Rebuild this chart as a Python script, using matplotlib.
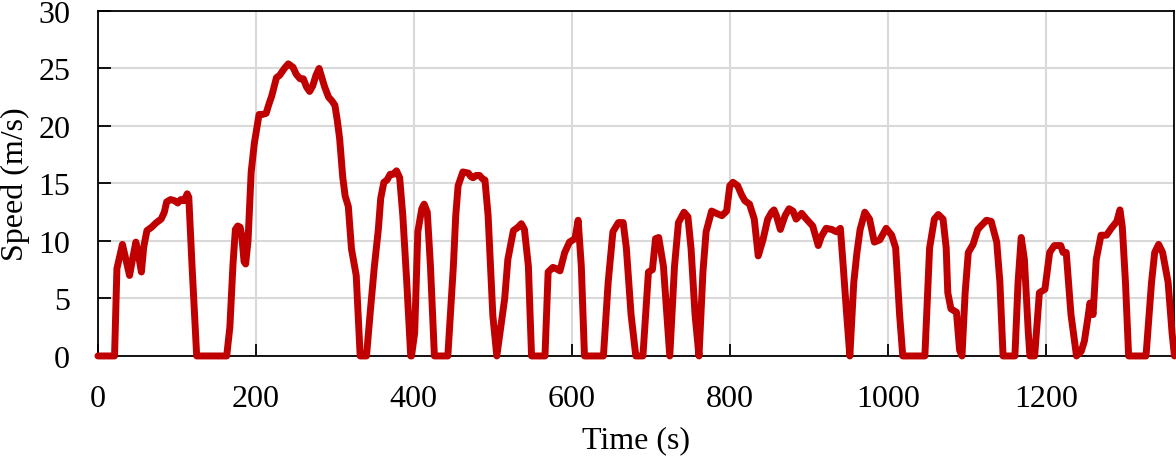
import numpy as np
import matplotlib
matplotlib.use('Agg')
import matplotlib.pyplot as plt

# speed trace (time in s, speed in m/s)
time_s = [0, 21, 24, 27, 31, 35, 40, 44, 48, 52, 55, 58, 62, 68, 74, 80, 84, 87, 92, 97,
          101, 105, 109, 113, 115, 119, 125, 163, 167, 171, 174, 177, 180, 182, 185, 187,
          190, 194, 198, 204, 208, 213, 216, 220, 226, 230, 236, 241, 247, 251, 256, 260,
          264, 268, 272, 276, 280, 283, 287, 292, 296, 300, 303, 306, 310, 313, 317, 321,
          327, 332, 340, 345, 350, 355, 358, 362, 366, 370, 374, 378, 382, 386, 391, 396,
          397, 401, 405, 410, 413, 417, 421, 426, 443, 450, 453, 456, 462, 469, 472, 475,
          479, 483, 487, 490, 494, 500, 505, 509, 515, 519, 526, 532, 536, 540, 545, 549,
          566, 570, 576, 580, 585, 591, 597, 604, 608, 612, 616, 640, 646, 652, 659, 665,
          669, 675, 681, 690, 697, 702, 706, 710, 716, 722, 724, 730, 735, 742, 747, 751,
          756, 761, 766, 770, 777, 783, 790, 796, 800, 804, 810, 815, 819, 825, 831, 836,
          842, 848, 853, 856, 859, 864, 870, 875, 880, 884, 891, 897, 905, 912, 916, 922,
          929, 935, 940, 943, 948, 952, 957, 961, 965, 971, 977, 983, 990, 998, 1005, 1010,
          1015, 1019, 1047, 1053, 1059, 1064, 1070, 1074, 1076, 1080, 1087, 1091, 1094,
          1098, 1102, 1108, 1114, 1118, 1125, 1131, 1138, 1142, 1146, 1161, 1165, 1169,
          1173, 1178, 1180, 1186, 1192, 1199, 1205, 1211, 1219, 1222, 1226, 1232, 1239,
          1245, 1249, 1254, 1256, 1260, 1264, 1270, 1277, 1283, 1290, 1294, 1297, 1301,
          1305, 1327, 1334, 1338, 1343, 1348, 1355, 1360, 1363]
speed_ms = [0, 0, 7.6, 8.5, 9.7, 8.5, 7.0, 8.5, 9.9, 8.5, 7.3, 9.5, 10.9, 11.2, 11.6, 11.9,
            12.5, 13.4, 13.6, 13.5, 13.3, 13.6, 13.5, 14.1, 13.8, 8.0, 0, 0, 2.5, 8.0, 11.0,
            11.3, 11.2, 10.5, 8.2, 8.0, 10.0, 16.0, 18.5, 21.0, 21.0, 21.1, 21.8, 22.6, 24.2,
            24.4, 25.0, 25.4, 25.1, 24.5, 24.1, 24.1, 23.4, 23.0, 23.5, 24.4, 25.0, 24.3,
            23.4, 22.5, 22.2, 21.8, 20.5, 18.9, 15.5, 13.9, 13.0, 9.3, 7.0, 0, 0, 4.0, 7.8,
            11.0, 13.7, 15.1, 15.3, 15.8, 15.8, 16.1, 15.5, 12.2, 6.4, 0, 0, 2.0, 10.8,
            12.8, 13.2, 12.5, 7.8, 0, 0, 7.8, 12.2, 14.8, 16.0, 15.9, 15.6, 15.5, 15.7,
            15.7, 15.4, 15.3, 12.2, 3.5, 0, 2.0, 5.0, 8.4, 10.9, 11.2, 11.5, 11.0, 7.8, 0,
            0, 7.3, 7.7, 7.6, 7.4, 9.0, 9.9, 10.2, 11.8, 7.8, 0, 0, 6.4, 10.8, 11.6, 11.6,
            9.4, 3.6, 0, 0, 7.3, 7.5, 10.2, 10.3, 7.8, 2.0, 0, 7.8, 11.6, 12.5, 12.1, 9.3,
            3.6, 0, 7.3, 10.8, 12.6, 12.4, 12.2, 12.6, 14.8, 15.1, 14.8, 14.0, 13.5, 13.2,
            11.9, 8.7, 10.1, 11.9, 12.5, 12.7, 12.2, 11.0, 12.2, 12.8, 12.6, 11.9, 12.4,
            11.9, 11.3, 9.6, 10.4, 11.1, 11.0, 10.8, 11.1, 8.4, 3.6, 0, 6.4, 9.0, 11.0,
            12.5, 11.9, 9.9, 10.1, 11.1, 10.5, 9.4, 3.6, 0, 0, 9.4, 11.9, 12.3, 11.9, 9.4,
            5.5, 4.1, 3.8, 0.5, 0, 5.5, 9.0, 9.7, 11.0, 11.3, 11.8, 11.7, 9.9, 6.4, 0, 0,
            6.4, 10.3, 8.4, 2.0, 0, 0, 5.5, 5.8, 9.0, 9.6, 9.6, 9.0, 9.0, 3.6, 0, 0.4, 1.3,
            3.6, 4.6, 3.6, 8.4, 10.5, 10.5, 11.1, 11.7, 12.7, 11.2, 6.4, 0, 0, 6.4, 9.0,
            9.7, 9.0, 6.4, 2.0, 0]

x_ticks = [0, 200, 400, 600, 800, 1000, 1200]
y_ticks = [0, 5, 10, 15, 20, 25, 30]

plt.rcParams['font.family'] = ['Liberation Serif', 'DejaVu Serif']

fig = plt.figure(figsize=(11.76, 4.6), dpi=100)
ax = fig.add_axes([0.0833, 0.224, 0.9147, 0.750])

ax.plot(time_s, speed_ms, color='#c00000', linewidth=5, solid_joinstyle='round',
        solid_capstyle='round', clip_on=False, zorder=5)

ax.set_xlim(0, 1362)
ax.set_ylim(0, 30)
ax.set_xticks(x_ticks)
ax.set_yticks(y_ticks)
ax.grid(True, color='#d9d9d9', linewidth=1.5)
ax.set_axisbelow(True)

ax.tick_params(direction='in', length=9, width=1.3, labelsize=23, pad=20, colors='black')
for s in ax.spines.values():
    s.set_linewidth(1.3)
    s.set_zorder(4)

ax.set_xlabel('Time (s)', fontsize=23, labelpad=9)
ax.set_ylabel('Speed (m/s)', fontsize=23, labelpad=6)

fig.savefig('out.png', dpi=100)
